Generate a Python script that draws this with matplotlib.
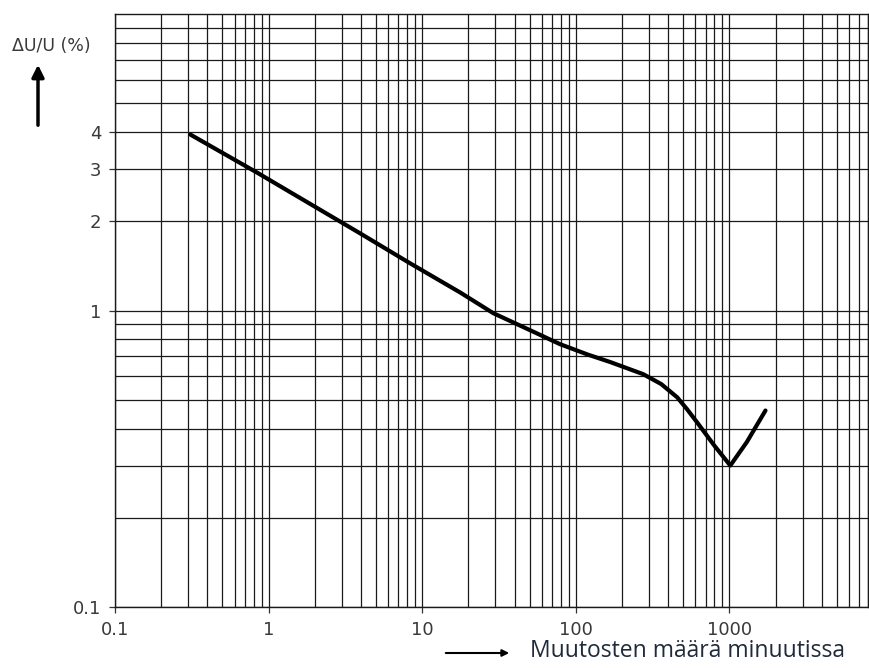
import numpy as np
import matplotlib.pyplot as plt
from matplotlib.ticker import LogLocator, NullFormatter

# curve
changes_per_min = [0.31, 0.84, 3.95, 8.4, 17.7, 29, 50, 79, 120, 168, 275, 360, 457, 530, 616, 800, 1015, 1300, 1720]
delta_u = [3.92, 2.92, 1.82, 1.44, 1.15, 0.98, 0.86, 0.77, 0.71, 0.67, 0.61, 0.565, 0.51, 0.465, 0.42, 0.35, 0.30, 0.36, 0.46]

x_ticks = [0.1, 1, 10, 100, 1000]
x_labels = ["0.1", "1", "10", "100", "1000"]
y_ticks = [0.1, 1, 2, 3, 4]
y_labels = ["0.1", "1", "2", "3", "4"]

fig = plt.figure(figsize=(8.7, 6.68), dpi=100)
ax = fig.add_axes([0.1322, 0.0913, 0.8655, 0.8877])

ax.plot(changes_per_min, delta_u, color='black', lw=3.0,
        solid_capstyle='round', solid_joinstyle='round')

ax.set_xscale('log')
ax.set_yscale('log')
ax.set_xlim(0.1, 8000)
ax.set_ylim(0.1, 10)

ax.set_xticks(x_ticks)
ax.set_xticklabels(x_labels)
ax.set_yticks(y_ticks)
ax.set_yticklabels(y_labels)
ax.xaxis.set_minor_locator(LogLocator(base=10, subs=np.arange(2, 10), numticks=20))
ax.yaxis.set_minor_locator(LogLocator(base=10, subs=np.arange(2, 10), numticks=20))
ax.xaxis.set_minor_formatter(NullFormatter())
ax.yaxis.set_minor_formatter(NullFormatter())

ax.grid(which='both', color='#1a1a1a', lw=0.9)
ax.set_axisbelow(True)
ax.tick_params(which='major', length=4, width=0.9, color='#333333',
               labelsize=13, labelcolor='#3a3a3a', pad=6)
ax.tick_params(which='minor', length=0)
for s in ax.spines.values():
    s.set_color('#1a1a1a')
    s.set_linewidth(1.0)

# y axis label with upward arrow
fig.text(12 / 870, 1 - 46 / 668, "ΔU/U (%)", fontsize=12.5, color='#3a3a3a',
         ha='left', va='center')
ax.annotate("", xy=(38 / 870, 1 - 62 / 668), xytext=(38 / 870, 1 - 128 / 668),
            xycoords='figure fraction', textcoords='figure fraction',
            arrowprops=dict(arrowstyle='-|>', color='black', lw=2.5, mutation_scale=18))

# x axis label with arrow
ax.annotate("", xy=(512 / 870, 1 - 653 / 668), xytext=(443 / 870, 1 - 653 / 668),
            xycoords='figure fraction', textcoords='figure fraction',
            arrowprops=dict(arrowstyle='-|>', color='black', lw=1.5, mutation_scale=10))
fig.text(530 / 870, 1 - 651 / 668, "Muutosten määrä minuutissa", fontsize=16.5,
         family='Open Sans', color='#1f2a3a', ha='left', va='center')

fig.savefig("out.png", dpi=100)
